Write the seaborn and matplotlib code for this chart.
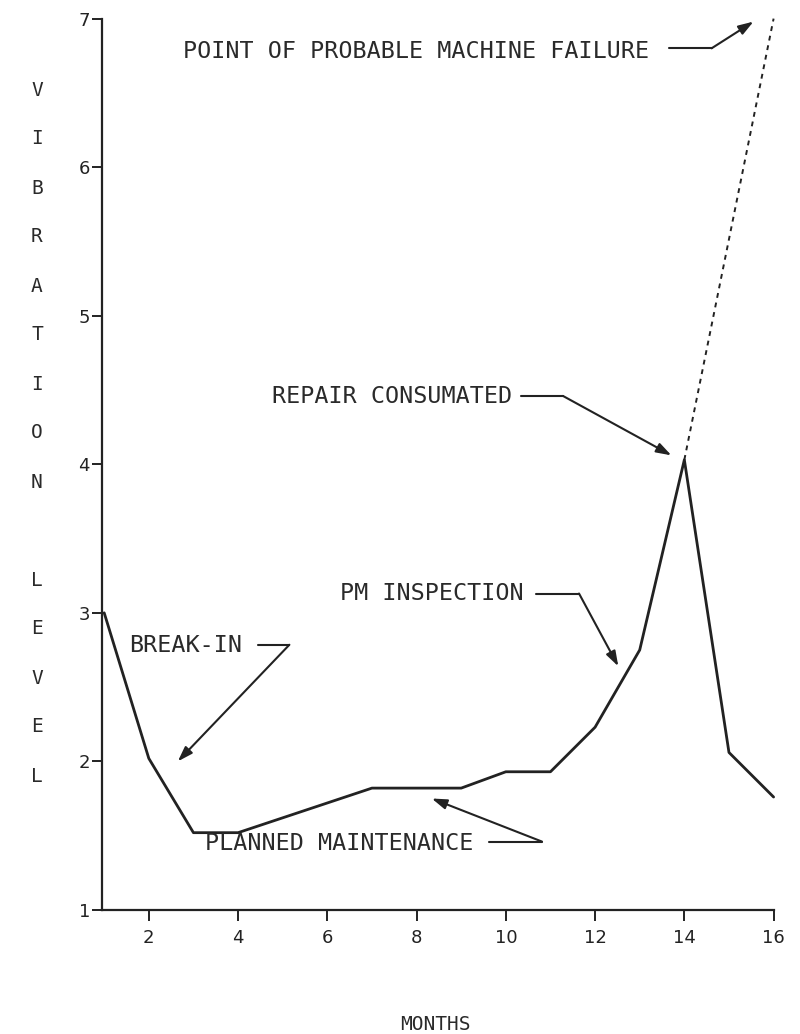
import matplotlib
matplotlib.use("Agg")
import matplotlib.pyplot as plt
import seaborn as sns
import pandas as pd

# ---- data ----
months = [1, 2, 3, 4, 5, 6, 7, 8, 9, 10, 11, 12, 13, 14, 15, 16]
vibration = [3.0, 2.02, 1.52, 1.52, 1.62, 1.72, 1.82, 1.82, 1.82, 1.93, 1.93, 2.23, 2.75, 4.03, 2.06, 1.76]
failure_months = [14, 16]
failure_vibration = [4.03, 7.0]
x_ticks = [2, 4, 6, 8, 10, 12, 14, 16]
y_ticks = [1, 2, 3, 4, 5, 6, 7]
ylabel_text = "VIBRATION LEVEL"
xlabel_text = "MONTHS"

# annotations: (text, text_x, text_y, line_start_x, corner_x, line_y, tip_x, tip_y)
annotations = [
    ("POINT OF PROBABLE MACHINE FAILURE", 2.76, 6.78, 13.66, 14.61, 6.80, 15.55, 6.98),
    ("REPAIR CONSUMATED", 4.77, 4.455, 10.34, 11.28, 4.46, 13.71, 4.06),
    ("PM INSPECTION", 6.29, 3.13, 10.67, 11.64, 3.13, 12.52, 2.64),
    ("BREAK-IN", 1.57, 2.78, 4.45, 5.15, 2.785, 2.65, 2.0),
    ("PLANNED MAINTENANCE", 3.26, 1.45, 9.62, 10.81, 1.46, 8.34, 1.75),
]

ink = "#222222"
text_ink = "#2a2a2a"
mono = ["DejaVu Sans Mono", "Liberation Mono"]

sns.set_style("ticks")
plt.rcParams["font.family"] = mono

fig = plt.figure(figsize=(8.0, 10.34), dpi=100)
ax = fig.add_axes([0.128, 0.120, 0.839, 0.862])

df = pd.DataFrame({"month": months, "vib": vibration})
df_fail = pd.DataFrame({"month": failure_months, "vib": failure_vibration})
sns.lineplot(data=df, x="month", y="vib", ax=ax, color=ink, lw=2.0, clip_on=False)
sns.lineplot(data=df_fail, x="month", y="vib", ax=ax, color=ink, lw=1.4,
             dashes=False, linestyle=(0, (2.5, 2.5)), clip_on=False)

ax.set_xlim(0.96, 16.0)
ax.set_ylim(1, 7)
ax.set_xticks(x_ticks)
ax.set_yticks(y_ticks)
ax.set_xlabel("")
ax.set_ylabel("")
sns.despine(ax=ax)
for s in ["left", "bottom"]:
    ax.spines[s].set_linewidth(1.6)
    ax.spines[s].set_color(ink)
ax.tick_params(axis="x", length=8, width=1.4, color=ink, pad=6, labelsize=13, labelcolor=ink)
ax.tick_params(axis="y", length=7, width=1.4, color=ink, pad=2, labelsize=13, labelcolor=ink)
for lab in ax.get_xticklabels() + ax.get_yticklabels():
    lab.set_family(["DejaVu Sans"])

for txt, tx, ty, lx0, lx1, ly, px, py in annotations:
    ax.text(tx, ty, txt, fontsize=16.8, color=text_ink, ha="left", va="center")
    ax.plot([lx0, lx1], [ly, ly], color=ink, lw=1.5, clip_on=False)
    ax.annotate("", xy=(px, py), xytext=(lx1, ly),
                arrowprops=dict(arrowstyle="-|>,head_length=0.9,head_width=0.3",
                                color=ink, lw=1.5, shrinkA=0, shrinkB=0),
                annotation_clip=False)

# vertical stacked y-label letters
W, H = 800, 1034
y_px = 90
for ch in ylabel_text:
    if ch != " ":
        fig.text(37 / W, 1 - y_px / H, ch, fontsize=14, color=text_ink, ha="center", va="center")
    y_px += 49

fig.text(435 / W, 1 - 1024 / H, xlabel_text, fontsize=14, color=text_ink, ha="center", va="center")

fig.savefig("out.png", dpi=100, facecolor="white")
